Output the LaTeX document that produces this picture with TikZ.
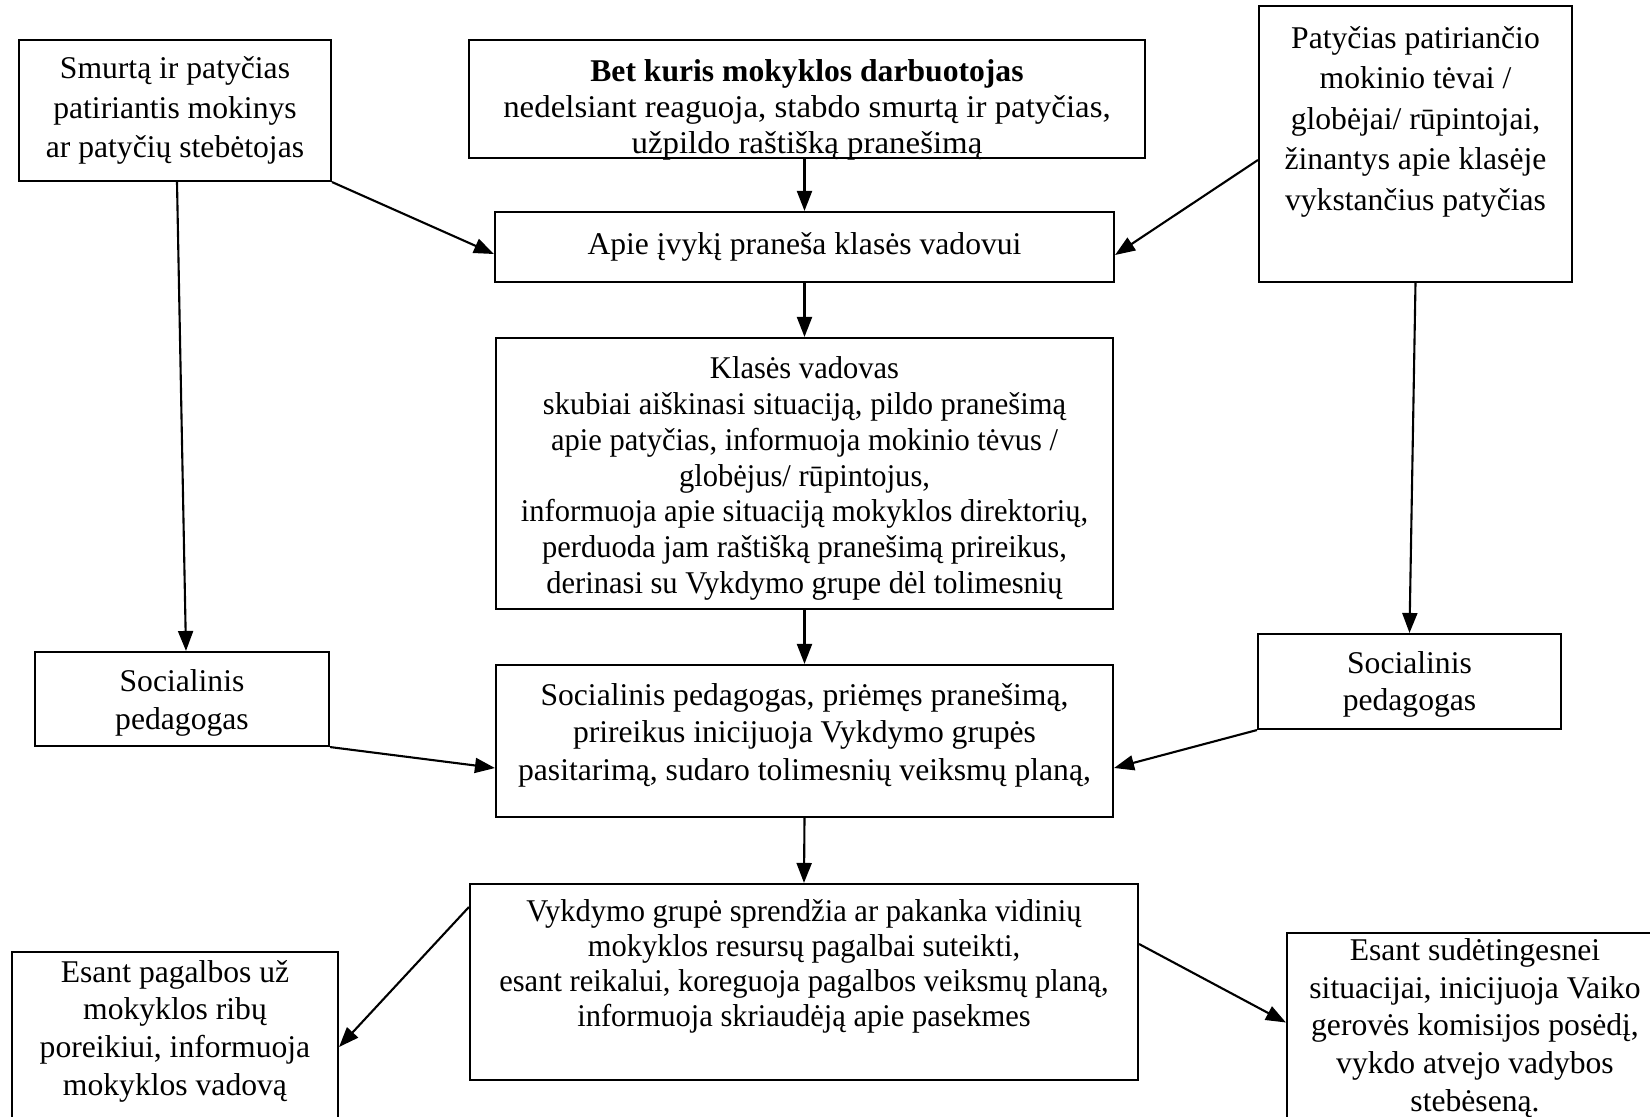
\documentclass[tikz,border=0pt]{standalone}
\usepackage{fontspec}
\setmainfont{Liberation Serif}
\newfontfamily\narrowfont[FakeStretch=0.965]{Liberation Serif}
\newfontfamily\widefont[FakeStretch=1.04]{Liberation Serif}
\usetikzlibrary{arrows.meta}

\begin{document}
\begin{tikzpicture}[
		box/.style 2 args={draw, line width=0.6pt, minimum width=#1cm, minimum height=#2cm, inner sep=0pt},
		txt/.style={align=center, font=\fontsize{9}{#1}\selectfont, inner sep=0pt},
		txt/.default=10.7,
		ntxt/.style={align=center, font=\narrowfont\fontsize{9}{#1}\selectfont, inner sep=0pt},
		arr/.style={-{Triangle[length=0.2cm,width=0.15cm]}, line width=0.6pt}
	]
		\useasboundingbox (0,0) rectangle (16.5,-11.17);

		% top row
		\node [box={3.12}{1.41}, txt=11.3] (smurt) at (1.75,-1.105) {Smurtą ir patyčias\\patiriantis mokinys\\ar patyčių stebėtojas};
		\node [box={6.76}{1.18}] (bet) at (8.07,-0.99) {};
		\begin{scope}
			\clip (bet.south west) rectangle (bet.north east);
			\node [txt=10.3] (bet-t) at (8.07,-1.10) {\textbf{Bet kuris mokyklos darbuotojas}\\\widefont nedelsiant reaguoja, stabdo smurtą ir patyčias,\\\widefont užpildo raštišką pranešimą};
		\end{scope}
		\node [box={3.13}{2.76}] (tevai) at (14.155,-1.44) {};
		\node [txt=11.5] (tevai-t) at (14.155,-1.217) {Patyčias patiriančio\\mokinio tėvai /\\globėjai/ rūpintojai,\\žinantys apie klasėje\\vykstančius patyčias};

		% middle column
		\node [box={6.19}{0.70}, txt] (apie) at (8.045,-2.47) {Apie įvykį praneša klasės vadovui};
		\node [box={6.17}{2.71}] (klase) at (8.045,-4.735) {};
		\node [ntxt=10.2] (klase-t) at (8.045,-4.785) {Klasės vadovas\\ skubiai aiškinasi situaciją, pildo pranešimą\\apie patyčias, informuoja mokinio tėvus /\\globėjus/ rūpintojus,\\informuoja apie situaciją mokyklos direktorių,\\perduoda jam raštišką pranešimą prireikus,\\derinasi su Vykdymo grupe dėl tolimesnių};
		\node [box={6.17}{1.52}] (msoc) at (8.045,-7.41) {};
		\node [txt] (msoc-t) at (8.045,-7.35) {Socialinis pedagogas, priėmęs pranešimą,\\prireikus inicijuoja Vykdymo grupės\\pasitarimą, sudaro tolimesnių veiksmų planą,};
		\node [box={6.68}{1.96}] (vykd) at (8.04,-9.82) {};
		\node [ntxt=10.0] (vykd-t) at (8.04,-9.665) {Vykdymo grupė sprendžia ar pakanka vidinių\\mokyklos resursų pagalbai suteikti,\\esant reikalui, koreguoja pagalbos veiksmų planą,\\informuoja skriaudėją apie pasekmes};

		% side boxes
		\node [box={2.94}{0.94}] (lsoc) at (1.82,-6.99) {};
		\node [txt] (lsoc-t) at (1.82,-7.03) {Socialinis\\pedagogas};
		\node [box={3.03}{0.95}] (rsoc) at (14.095,-6.815) {};
		\node [txt] (rsoc-t) at (14.095,-6.845) {Socialinis\\pedagogas};
		\node [box={3.26}{1.88}] (lbot) at (1.75,-10.46) {};
		\node [txt] (lbot-t) at (1.75,-10.31) {Esant pagalbos už\\mokyklos ribų\\poreikiui, informuoja\\mokyklos vadovą};
		\node [box={3.76}{2.07}] (rbot) at (14.75,-10.365) {};
		\node [txt] (rbot-t) at (14.75,-10.28) {Esant sudėtingesnei\\situacijai, inicijuoja Vaiko\\gerovės komisijos posėdį,\\vykdo atvejo vadybos\\stebėseną.};

		% arrows
		\draw [arr] (apie.north |- bet.south) -- (apie.north);
		\draw [arr] (smurt.south east) -- ([yshift=-0.07cm]apie.west);
		\draw [arr] ([yshift=-0.16cm]tevai.west) -- ([yshift=-0.08cm]apie.east);
		\draw [arr] (apie.south) -- (klase.north);
		\draw [arr] ([xshift=0.02cm]smurt.south) -- ([xshift=0.04cm]lsoc.north);
		\draw [arr] (tevai.south) -- (rsoc.north);
		\draw [arr] (klase.south) -- (msoc.north);
		\draw [arr] (lsoc.south east) -- ([yshift=-0.27cm]msoc.west);
		\draw [arr] (rsoc.south west) -- ([yshift=-0.27cm]msoc.east);
		\draw [arr] (msoc.south) -- (vykd.north);
		\draw [arr] ([yshift=0.75cm]vykd.west) -- ([yshift=-0.01cm]lbot.east);
		\draw [arr] ([yshift=0.38cm]vykd.east) -- ([yshift=0.14cm]rbot.west);
	\end{tikzpicture}
\end{document}
